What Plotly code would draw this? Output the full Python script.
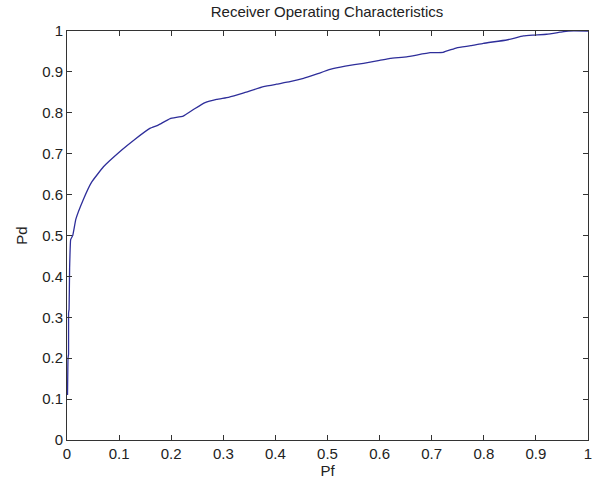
import plotly.graph_objects as go

pf = [0.001, 0.002, 0.003, 0.003, 0.004, 0.005, 0.007, 0.011, 0.017, 0.031, 0.047, 0.07,
      0.105, 0.13, 0.159, 0.175, 0.198, 0.223, 0.245, 0.265, 0.287, 0.31, 0.338, 0.377,
      0.402, 0.428, 0.454, 0.48, 0.505, 0.534, 0.569, 0.6, 0.62, 0.652, 0.697, 0.722,
      0.748, 0.775, 0.799, 0.844, 0.876, 0.895, 0.921, 0.946, 0.962, 1.0]
pd = [0.11, 0.2, 0.21, 0.31, 0.32, 0.42, 0.49, 0.5, 0.54, 0.587, 0.63, 0.668,
      0.709, 0.735, 0.762, 0.77, 0.786, 0.792, 0.81, 0.825, 0.833, 0.838, 0.848, 0.864,
      0.87, 0.876, 0.884, 0.895, 0.906, 0.914, 0.921, 0.928, 0.933, 0.937, 0.947, 0.948,
      0.959, 0.964, 0.97, 0.978, 0.988, 0.99, 0.992, 0.997, 1.0, 1.0]

tick_vals = [0, 0.1, 0.2, 0.3, 0.4, 0.5, 0.6, 0.7, 0.8, 0.9, 1]
tick_text = ["0", "0.1", "0.2", "0.3", "0.4", "0.5", "0.6", "0.7", "0.8", "0.9", "1"]

FONT = "Liberation Sans, Arial, sans-serif"

fig = go.Figure()
fig.add_trace(go.Scatter(x=pf, y=pd, mode="lines", line_shape="spline",
                         line=dict(color="#2e2e9a", width=1.3, smoothing=0.3), showlegend=False))

axis_common = dict(
    showgrid=False, zeroline=False, showline=True, linecolor="#333333", linewidth=1,
    mirror="ticks", ticks="inside", ticklen=5, tickcolor="#333333", tickwidth=1,
    tickvals=tick_vals, ticktext=tick_text,
    tickfont=dict(family=FONT, size=15, color="#222222"),
    range=[0, 1], fixedrange=True, automargin=False,
)

fig.update_layout(
    width=600, height=483,
    margin=dict(l=67, r=12, t=31, b=43),
    paper_bgcolor="white", plot_bgcolor="white",
    title=dict(text="Receiver Operating Characteristics", x=0.545, xanchor="center",
               y=0.975, yanchor="middle",
               font=dict(family=FONT, size=15, color="#222222")),
    xaxis=dict(**axis_common,
               title=dict(text="Pf", standoff=1,
                          font=dict(family=FONT, size=15, color="#222222"))),
    yaxis=dict(**axis_common,
               title=dict(text="Pd", standoff=10,
                          font=dict(family=FONT, size=15, color="#222222"))),
)

fig.write_html("out.html")
